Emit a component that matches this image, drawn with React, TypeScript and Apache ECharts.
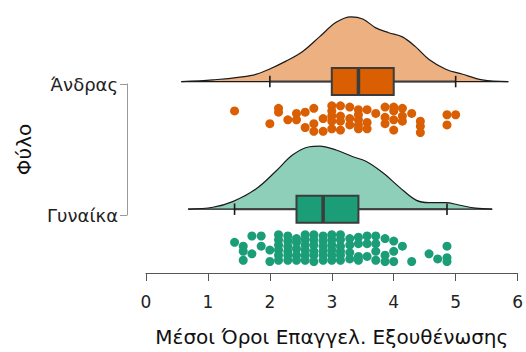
import React, { useEffect, useRef } from "react";
import * as echarts from "echarts";

const groups = ["Γυναίκα", "Άνδρας"];
const xTitle = "Μέσοι Όροι Επαγγελ. Εξουθένωσης";
const yTitle = "Φύλο";
const xMin = 0;
const xMax = 6;

// [whisker low, Q1, median, Q3, whisker high]
const maleBox = [2.0, 3.0, 3.43, 4.0, 5.0];
const femaleBox = [1.43, 2.43, 2.86, 3.43, 4.86];

// density outline: [x, height]
const maleDensity = [
  [0.57, 0], [1.08, 0.013], [1.73, 0.051], [1.99, 0.097], [2.26, 0.16], [2.53, 0.236],
  [2.8, 0.35], [3.07, 0.464], [3.31, 0.507], [3.5, 0.49], [3.71, 0.421], [3.92, 0.383],
  [4.14, 0.35], [4.35, 0.274], [4.57, 0.173], [4.84, 0.097], [5.1, 0.059], [5.43, 0.013], [5.85, 0],
];
const femaleDensity = [
  [0.68, 0], [1.08, 0.015], [1.4, 0.059], [1.78, 0.16], [2.1, 0.299], [2.37, 0.426],
  [2.64, 0.489], [2.8, 0.494], [3.07, 0.464], [3.33, 0.413], [3.55, 0.375], [3.82, 0.287],
  [4.09, 0.173], [4.36, 0.071], [4.57, 0.051], [4.84, 0.051], [5.05, 0.033], [5.32, 0.008], [5.59, 0],
];

// raw points (x) and their vertical jitter below the group line
const maleDotX = [
  1.43, 2.0, 2.14, 2.14, 2.29, 2.43, 2.43, 2.57, 2.57, 2.71, 2.71, 2.71, 2.86, 2.86,
  3.0, 3.0, 3.0, 3.0, 3.0, 3.14, 3.14, 3.14, 3.14, 3.29, 3.29, 3.29,
  3.43, 3.43, 3.43, 3.43, 3.43, 3.57, 3.57, 3.57, 3.71, 3.86, 3.86, 3.86,
  4.0, 4.0, 4.0, 4.0, 4.14, 4.14, 4.14, 4.29, 4.43, 4.43, 4.43, 4.86, 4.86, 5.0,
];
const maleDotJitter = [
  0.23, 0.33, 0.21, 0.24, 0.3, 0.25, 0.3, 0.24, 0.36, 0.21, 0.33, 0.39, 0.29, 0.39,
  0.19, 0.23, 0.27, 0.31, 0.37, 0.19, 0.27, 0.31, 0.38, 0.2, 0.29, 0.34,
  0.22, 0.26, 0.3, 0.34, 0.37, 0.22, 0.32, 0.37, 0.25, 0.2, 0.28, 0.33,
  0.2, 0.23, 0.3, 0.38, 0.21, 0.27, 0.31, 0.25, 0.31, 0.35, 0.4, 0.26, 0.34, 0.26,
];
const femaleDotX = [
  1.43, 1.57, 1.57, 1.57, 1.71, 1.71, 1.86, 1.86, 2.0, 2.0,
  2.14, 2.14, 2.14, 2.14, 2.14, 2.14,
  2.29, 2.29, 2.29, 2.29, 2.29, 2.29,
  2.43, 2.43, 2.43, 2.43, 2.43,
  2.57, 2.57, 2.57, 2.57, 2.57, 2.57,
  2.71, 2.71, 2.71, 2.71, 2.71, 2.71,
  2.86, 2.86, 2.86, 2.86, 2.86, 2.86,
  3.0, 3.0, 3.0, 3.0, 3.0, 3.0,
  3.14, 3.14, 3.14, 3.14, 3.14, 3.14,
  3.29, 3.29, 3.29, 3.29, 3.43, 3.43, 3.43, 3.43, 3.57, 3.57, 3.57,
  3.71, 3.71, 3.71, 3.71, 3.86, 3.86, 3.86, 4.0, 4.0, 4.0,
  4.14, 4.29, 4.57, 4.71, 4.86, 4.86, 4.86,
];
const femaleDotJitter = [
  0.26, 0.29, 0.33, 0.4, 0.21, 0.35, 0.21, 0.29, 0.32, 0.41,
  0.2, 0.24, 0.28, 0.32, 0.36, 0.4,
  0.21, 0.25, 0.29, 0.33, 0.36, 0.4,
  0.23, 0.26, 0.31, 0.36, 0.4,
  0.2, 0.24, 0.28, 0.32, 0.36, 0.4,
  0.2, 0.24, 0.28, 0.33, 0.36, 0.41,
  0.21, 0.25, 0.29, 0.33, 0.36, 0.4,
  0.2, 0.24, 0.28, 0.32, 0.36, 0.4,
  0.2, 0.24, 0.29, 0.33, 0.36, 0.4,
  0.23, 0.28, 0.34, 0.39, 0.22, 0.27, 0.37, 0.4, 0.21, 0.27, 0.37,
  0.21, 0.27, 0.33, 0.4, 0.23, 0.36, 0.41, 0.25, 0.33, 0.41,
  0.29, 0.41, 0.35, 0.39, 0.29, 0.38, 0.41,
];

const maleColor = "#D95F02";
const maleFill = "#EDB081";
const femaleColor = "#1B9E77";
const femaleFill = "#8ECFBA";
const boxLine = "#3c3c3c";
const FONT = "'DejaVu Sans', 'Liberation Sans', Arial, sans-serif";

export default function App() {
  const ref = useRef<HTMLDivElement>(null);
  useEffect(() => {
    if (!ref.current) return;
    const chart = echarts.init(ref.current, undefined, { renderer: "svg" });
    const femaleLevel = 1;
    const maleLevel = 2;
    const boxData = [
      {
        value: [maleLevel, ...maleBox, maleDensity[0][0], maleDensity[maleDensity.length - 1][0]],
        itemStyle: { color: maleColor },
      },
      {
        value: [femaleLevel, ...femaleBox, femaleDensity[0][0], femaleDensity[femaleDensity.length - 1][0]],
        itemStyle: { color: femaleColor },
      },
    ];
    const densitySeries = (d: number[][], level: number, fill: string) => ({
      type: "line",
      xAxisIndex: 0,
      yAxisIndex: 0,
      data: d.map(([x, h]) => [x, level + h]),
      smooth: 0.35,
      symbol: "none",
      lineStyle: { color: "#1a1a1a", width: 1.2 },
      areaStyle: { color: fill, opacity: 1, origin: level },
      silent: true,
      z: 1,
    });
    const option: any = {
      animation: false,
      textStyle: { fontFamily: FONT },
      grid: [
        { left: 146, right: 7, top: 5, bottom: 71 },
        { left: 127, top: 84, height: 131, width: 5 },
      ],
      xAxis: [
        {
          type: "value",
          gridIndex: 0,
          min: xMin,
          max: xMax,
          interval: 1,
          axisLine: { show: true, onZero: false, lineStyle: { color: "#555", width: 1 } },
          axisTick: { show: true, length: 8, lineStyle: { color: "#555" } },
          axisLabel: { fontSize: 17, color: "#222", margin: 20, fontFamily: FONT },
          splitLine: { show: false },
          name: xTitle,
          nameLocation: "middle",
          nameGap: 54,
          nameTextStyle: { fontSize: 20, color: "#111", fontFamily: FONT },
        },
        { type: "value", gridIndex: 1, min: 0, max: 1, show: false },
      ],
      yAxis: [
        { type: "value", gridIndex: 0, min: 0.5, max: 2.6, show: false },
        {
          type: "category",
          gridIndex: 1,
          data: groups,
          boundaryGap: false,
          axisLine: { show: true, lineStyle: { color: "#9a9a9a", width: 1 } },
          axisTick: { show: true, length: 7, lineStyle: { color: "#9a9a9a" } },
          axisLabel: { fontSize: 18, color: "#222", margin: 9, fontFamily: FONT },
          splitLine: { show: false },
          name: yTitle,
          nameLocation: "middle",
          nameRotate: 90,
          nameGap: 93,
          nameTextStyle: { fontSize: 20, color: "#111", fontFamily: FONT },
        },
      ],
      series: [
        densitySeries(maleDensity, maleLevel, maleFill),
        densitySeries(femaleDensity, femaleLevel, femaleFill),
        {
          type: "custom",
          xAxisIndex: 0,
          yAxisIndex: 0,
          data: boxData,
          z: 2,
          renderItem: (params: any, api: any) => {
            const lvl = api.value(0);
            const lo = api.value(1);
            const q1 = api.value(2);
            const med = api.value(3);
            const q3 = api.value(4);
            const hi = api.value(5);
            const dMin = api.value(6);
            const dMax = api.value(7);
            const color = api.visual("color");
            const pBaseL = api.coord([dMin, lvl]);
            const pBaseR = api.coord([dMax, lvl]);
            const pLo = api.coord([lo, lvl]);
            const pHi = api.coord([hi, lvl]);
            const pQ1 = api.coord([q1, lvl + 0.106]);
            const pQ3 = api.coord([q3, lvl - 0.106]);
            const pMedT = api.coord([med, lvl + 0.106]);
            const pMedB = api.coord([med, lvl - 0.106]);
            const capT = api.coord([lo, lvl + 0.045]);
            const capB = api.coord([lo, lvl - 0.045]);
            const capT2 = api.coord([hi, lvl + 0.045]);
            const capB2 = api.coord([hi, lvl - 0.045]);
            return {
              type: "group",
              children: [
                {
                  type: "line",
                  shape: { x1: pBaseL[0], y1: pBaseL[1], x2: pBaseR[0], y2: pBaseR[1] },
                  style: { stroke: "#1a1a1a", lineWidth: 1.2 },
                },
                {
                  type: "line",
                  shape: { x1: pLo[0], y1: pLo[1], x2: pHi[0], y2: pHi[1] },
                  style: { stroke: boxLine, lineWidth: 2 },
                },
                {
                  type: "line",
                  shape: { x1: capT[0], y1: capT[1], x2: capB[0], y2: capB[1] },
                  style: { stroke: "#1a1a1a", lineWidth: 1.6 },
                },
                {
                  type: "line",
                  shape: { x1: capT2[0], y1: capT2[1], x2: capB2[0], y2: capB2[1] },
                  style: { stroke: "#1a1a1a", lineWidth: 1.6 },
                },
                {
                  type: "rect",
                  shape: { x: pQ1[0], y: pQ1[1], width: pQ3[0] - pQ1[0], height: pQ3[1] - pQ1[1] },
                  style: { fill: color, stroke: boxLine, lineWidth: 2 },
                },
                {
                  type: "line",
                  shape: { x1: pMedT[0], y1: pMedT[1], x2: pMedB[0], y2: pMedB[1] },
                  style: { stroke: boxLine, lineWidth: 3.5 },
                },
              ],
            };
          },
        },
        {
          type: "scatter",
          xAxisIndex: 0,
          yAxisIndex: 0,
          symbolSize: 9,
          itemStyle: { color: maleColor, opacity: 1 },
          data: maleDotX.map((x, i) => [x, maleLevel - maleDotJitter[i]]),
          z: 3,
        },
        {
          type: "scatter",
          xAxisIndex: 0,
          yAxisIndex: 0,
          symbolSize: 9,
          itemStyle: { color: femaleColor, opacity: 1 },
          data: femaleDotX.map((x, i) => [x, femaleLevel - femaleDotJitter[i]]),
          z: 3,
        },
      ],
    };
    chart.setOption(option);
    return () => chart.dispose();
  }, []);
  return (
    <div
      ref={ref}
      style={{ position: "fixed", left: 0, top: 0, width: 526, height: 352, background: "#fff" }}
    />
  );
}
